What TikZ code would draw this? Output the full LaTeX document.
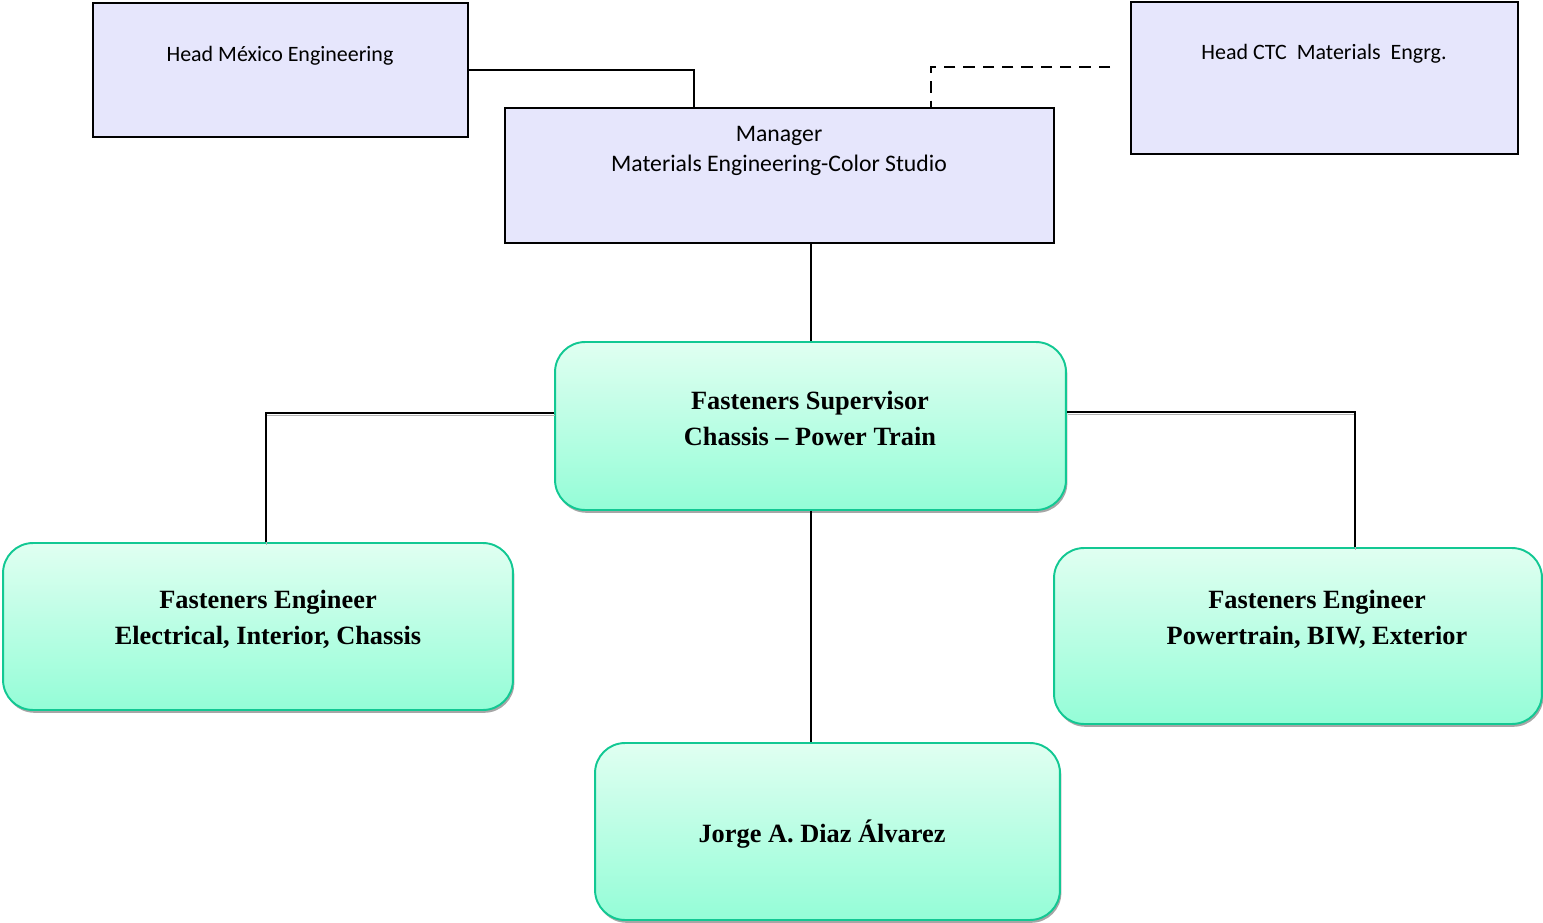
\documentclass[tikz,border=0pt]{standalone}
\usepackage{fontspec}
\setmainfont{Liberation Serif}
\newfontfamily\calfont{Carlito}
\usepackage{tikz}
\usetikzlibrary{shadows}

\definecolor{lavbox}{HTML}{E6E6FC}
\definecolor{mintTop}{HTML}{E0FFF1}
\definecolor{mintBot}{HTML}{94FDD7}
\definecolor{mintLine}{HTML}{12C893}

\begin{document}
\begin{tikzpicture}[x=0.02cm, y=-0.02cm,
    headbox/.style={rectangle, draw, line width=1.1pt, fill=lavbox},
    headtext/.style={font=\calfont\fontsize{12.5}{17}\selectfont, align=center, inner sep=0pt},
    rolebox/.style={rectangle, rounded corners=0.6cm, draw=mintLine, line width=1.1pt, top color=mintTop, bottom color=mintBot,
        drop shadow={shadow xshift=0.8pt, shadow yshift=-1.6pt, fill=black!35, opacity=1}},
    roletext/.style={font=\bfseries\fontsize{15}{20.5}\selectfont, align=center, inner sep=0pt},
    link/.style={line width=1.6pt},
    sublink/.style={link, preaction={draw=black!30, transform canvas={shift={(0.4pt,-1.6pt)}}}}]

    \useasboundingbox (0,0) rectangle (1543,923);

    % upper level
    \node[headbox, minimum width=7.5cm, minimum height=2.68cm] (headmx) at (280.5,70) {};
    \node[headtext] (headmxtxt) at (280,56) {Head México Engineering};
    \node[headbox, minimum width=7.74cm, minimum height=3.04cm] (headctc) at (1324.5,78) {};
    \node[headtext] (headctctxt) at (1324,54) {Head CTC~ Materials~ Engrg.};
    \node[headbox, minimum width=10.98cm, minimum height=2.7cm] (mgr) at (779.5,175.5) {};
    \node[headtext, font=\calfont\fontsize{13.5}{17}\selectfont] (mgrtxt) at (779,151) {Manager\\Materials Engineering-Color Studio};
    \coordinate (ctcend) at (1110,67);

    % fasteners team
    \node[rolebox, minimum width=10.22cm, minimum height=3.36cm] (sup) at (810.5,426) {};
    \node[roletext] (suptxt) at (810,418.5) {Fasteners Supervisor\\Chassis -- Power Train};
    \node[rolebox, minimum width=10.2cm, minimum height=3.34cm] (engl) at (258,626.5) {};
    \node[roletext] (engltxt) at (268,619.5) {Fasteners Engineer\\Electrical, Interior, Chassis};
    \node[rolebox, minimum width=9.76cm, minimum height=3.52cm] (engr) at (1298,636) {};
    \node[roletext] (engrtxt) at (1317,619) {Fasteners Engineer\\Powertrain, BIW, Exterior};
    \node[rolebox, minimum width=9.3cm, minimum height=3.54cm] (jorge) at (827.5,831.5) {};
    \node[roletext] (jorgetxt) at (822,834) {Jorge A. Diaz Álvarez};

    \draw[link] (headmx.east) -| (mgr.north -| 694,0);
    \draw[link, dash pattern=on 6.5pt off 4.5pt] (ctcend) -| (mgr.north -| 931,0);
    \draw[link] (mgr.south -| 811,0) -- (sup.north -| 811,0);
    \draw[sublink] (sup.west |- 0,413) -| (engl.north -| 266,0);
    \draw[sublink] (sup.east |- 0,412) -| (engr.north -| 1355,0);
    \draw[link] (sup.south -| 811,0) -- (jorge.north -| 811,0);
\end{tikzpicture}
\end{document}
